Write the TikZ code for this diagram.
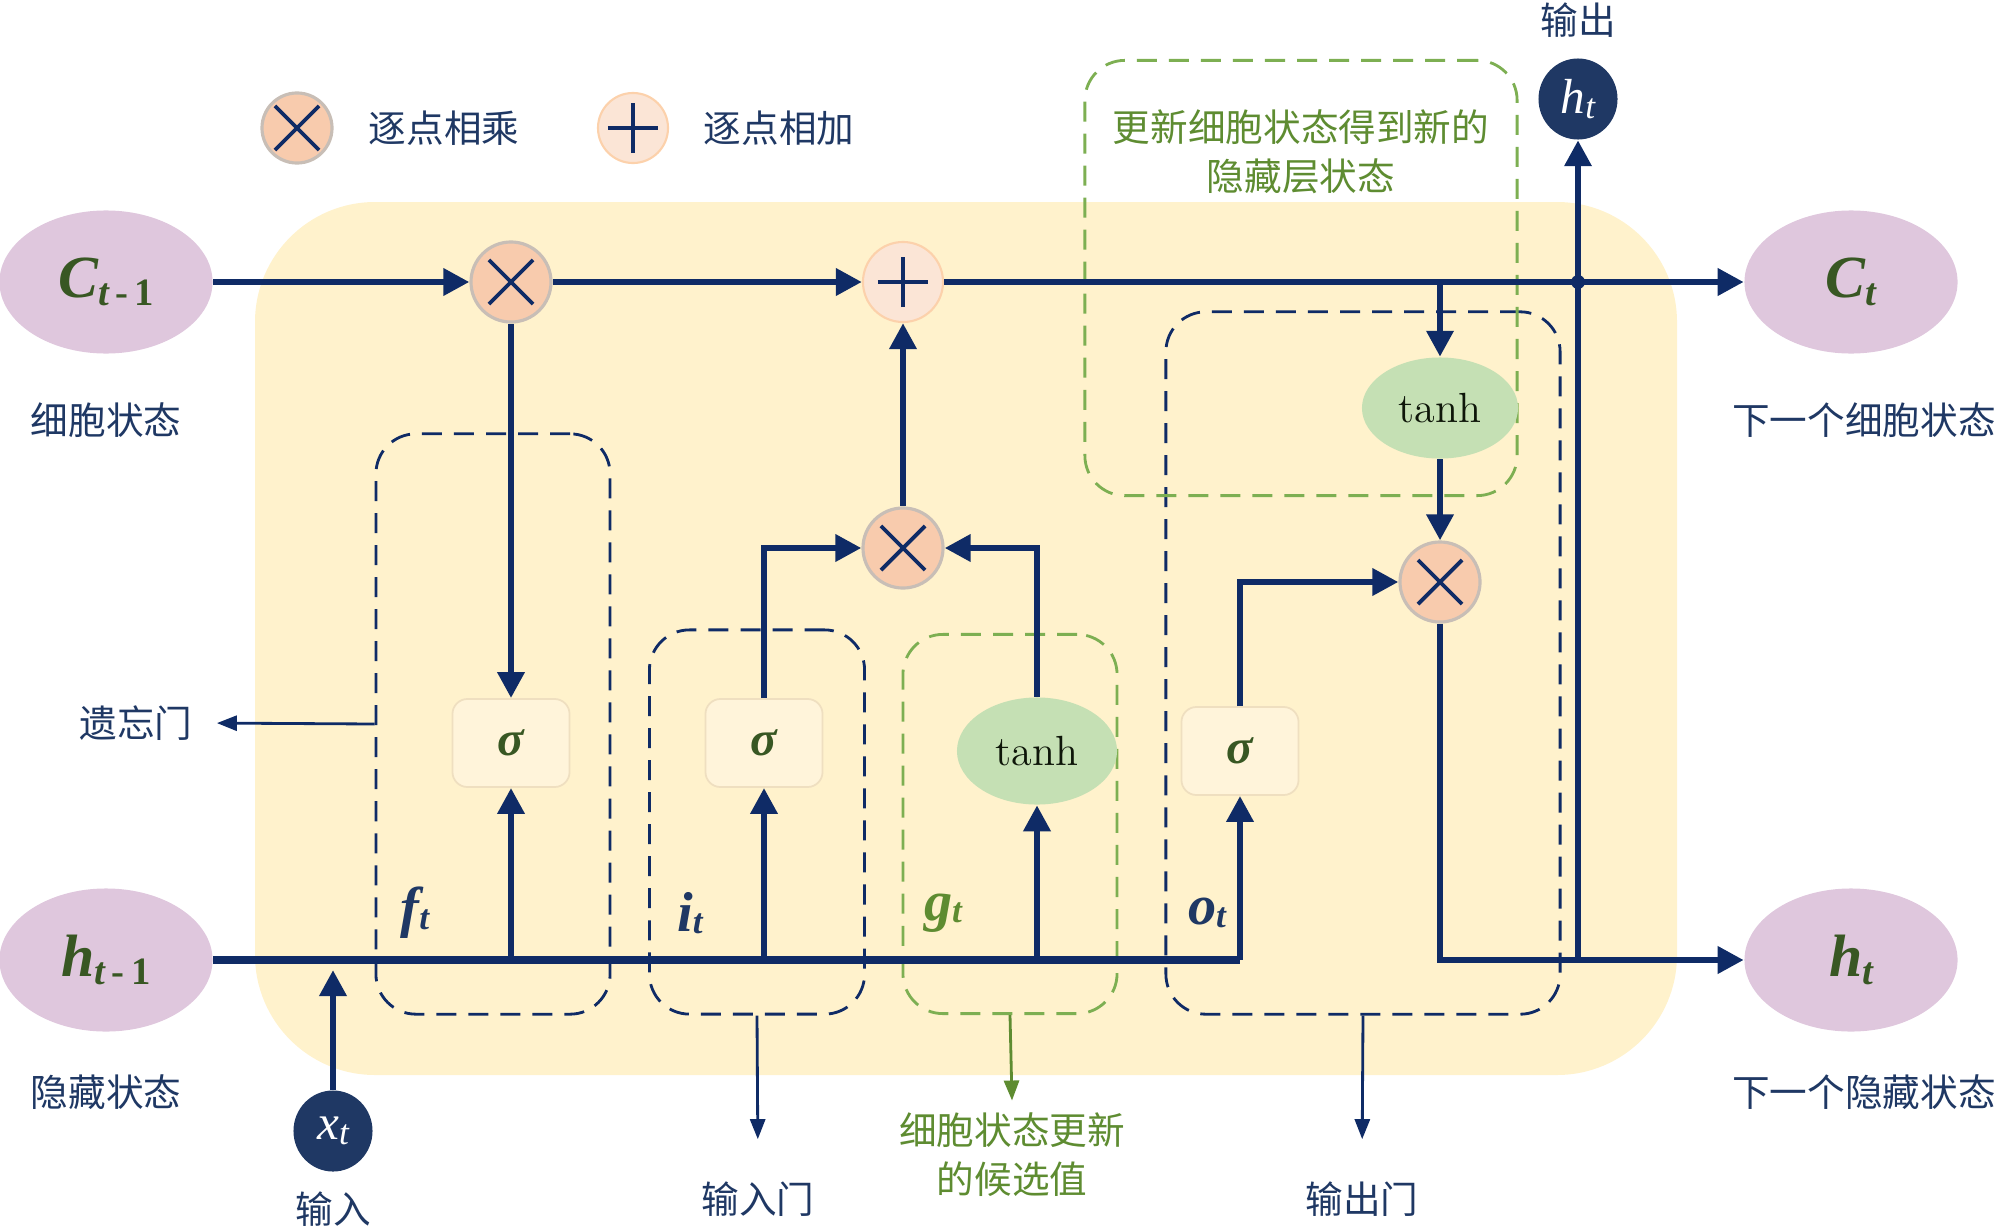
\documentclass[tikz,border=0pt]{standalone}
\usepackage{fontspec}
\usepackage{tikz}
\usetikzlibrary{arrows.meta,shapes.geometric}
\newfontfamily\cjk{Noto Sans CJK SC}
\newfontfamily\tnr{Liberation Serif}
\definecolor{linenavy}{HTML}{0F2B66}
\definecolor{textnavy}{HTML}{1F3864}
\definecolor{cellyellow}{HTML}{FFF2CC}
\definecolor{statepurple}{HTML}{DFC7DD}
\definecolor{multorange}{HTML}{F8CBAD}
\definecolor{plusorange}{HTML}{FBE5D6}
\definecolor{tanhgreen}{HTML}{C5E0B4}
\definecolor{darkgreen}{HTML}{385723}
\definecolor{gategreen}{HTML}{5E8C31}
\definecolor{dashgreen}{HTML}{7DAF52}
\definecolor{ringgray}{HTML}{C8BEB6}
\definecolor{sigfill}{HTML}{FFF4DA}
\definecolor{sigline}{HTML}{EFDFC0}
\newcommand{\statesym}[2]{{\tnr\bfseries\itshape\fontsize{17}{17}\selectfont #1\raisebox{-0.3ex}{\fontsize{11}{11}\selectfont #2}}}
\newcommand{\gatesym}[1]{{\tnr\bfseries\itshape\fontsize{16}{16}\selectfont #1\raisebox{-0.1ex}{\fontsize{10}{10}\selectfont t}}}

\begin{document}
\begin{tikzpicture}[x=0.01cm,y=-0.01cm,
  arr/.style={linenavy,line width=1.9pt,-{Triangle[length=2.6mm,width=2.6mm]}},
  thinarr/.style={linenavy,line width=0.8pt,-{Triangle[length=2mm,width=1.5mm]}},
  hline/.style={linenavy,line width=2.5pt},
  state/.style={ellipse,fill=statepurple,minimum width=21.3mm,minimum height=14.3mm,inner sep=0pt,text=darkgreen},
  opmult/.style={circle,fill=multorange,draw=ringgray,line width=0.9pt,minimum size=8mm,inner sep=0pt,
    path picture={\draw[linenavy,line width=1.1pt]
      ([shift={(-2.2mm,-2.2mm)}]path picture bounding box.center) -- ([shift={(2.2mm,2.2mm)}]path picture bounding box.center)
      ([shift={(-2.2mm,2.2mm)}]path picture bounding box.center) -- ([shift={(2.2mm,-2.2mm)}]path picture bounding box.center);}},
  opplus/.style={circle,fill=plusorange,draw=plusorange!80!orange,line width=0.6pt,minimum size=8mm,inner sep=0pt,
    path picture={\draw[linenavy,line width=1.2pt]
      ([shift={(-2.5mm,0mm)}]path picture bounding box.center) -- ([shift={(2.5mm,0mm)}]path picture bounding box.center)
      ([shift={(0mm,-2.5mm)}]path picture bounding box.center) -- ([shift={(0mm,2.5mm)}]path picture bounding box.center);}},
  sigmabox/.style={rectangle,rounded corners=1.5mm,fill=sigfill,draw=sigline,line width=0.5pt,minimum width=11.7mm,minimum height=8.8mm,
    text=darkgreen,font=\tnr\bfseries\itshape\fontsize{14}{14}\selectfont},
  tanhnode/.style={ellipse,fill=tanhgreen,inner sep=0pt,text=black!75!darkgreen,font=\fontsize{12}{12}\selectfont},
  darkdot/.style={ellipse,fill=textnavy,inner sep=0pt,minimum width=7.9mm,minimum height=8.1mm,text=white,
    font=\tnr\itshape\fontsize{14}{14}\selectfont},
  gatebox/.style={rectangle,draw=linenavy,line width=0.8pt,dash pattern=on 2mm off 1.2mm,rounded corners=4mm,inner sep=0pt},
  greenbox/.style={gatebox,draw=dashgreen},
  cntext/.style={text=textnavy,font=\cjk\fontsize{10.7}{14}\selectfont,align=center},
  greentext/.style={cntext,text=gategreen}]
  \useasboundingbox (0,0) rectangle (2000,1230);
  \fill[cellyellow,rounded corners=12mm] (255,202) rectangle (1677,1075);

  % legend
  \node[opmult,minimum size=7mm] (lgmult) at (297,128) {};
  \node[cntext] (lgmulttxt) at (444,128) {逐点相乘};
  \node[opplus,minimum size=7mm] (lgplus) at (633,128) {};
  \node[cntext] (lgplustxt) at (779,128) {逐点相加};

  % dashed gate regions
  \node[gatebox,minimum width=23.4mm,minimum height=58mm] (fbox) at (493,724) {};
  \node[gatebox,minimum width=21.5mm,minimum height=38.4mm] (ibox) at (757,822) {};
  \node[greenbox,minimum width=21.4mm,minimum height=37.9mm] (gbox) at (1010,824) {};
  \node[gatebox,minimum width=39.4mm,minimum height=70.2mm] (obox) at (1363,663) {};
  \node[greenbox,minimum width=43.2mm,minimum height=43.5mm] (hbox) at (1301,278) {};

  % states
  \node[state] (cprev) at (106,282) {\statesym{C}{t\upshape\,-\,1}};
  \node[state] (hprev) at (106,960) {\statesym{h}{t\upshape\,-\,1}};
  \node[state] (cnext) at (1851,282) {\statesym{C}{t}};
  \node[state] (hnext) at (1851,960) {\statesym{h}{t}};
  \node[cntext] (cprevtxt) at (106,420) {细胞状态};
  \node[cntext] (hprevtxt) at (106,1092) {隐藏状态};
  \node[cntext] (cnexttxt) at (1864,420) {下一个细胞状态};
  \node[cntext] (hnexttxt) at (1864,1092) {下一个隐藏状态};

  % operations
  \node[opmult] (fmul) at (511,282) {};
  \node[opplus] (cadd) at (903,282) {};
  \node[opmult] (imul) at (903,548) {};
  \node[opmult] (omul) at (1440,582) {};
  \node[sigmabox] (fsig) at (511,743) {σ};
  \node[sigmabox] (isig) at (764,743) {σ};
  \node[tanhnode,minimum width=16mm,minimum height=10.7mm] (gtanh) at (1037,751) {tanh};
  \node[sigmabox] (osig) at (1240,751) {σ};
  \node[tanhnode,minimum width=15.6mm,minimum height=10.1mm] (ctanh) at (1440,408) {tanh};

  \node[darkdot] (hout) at (1578,99) {h\raisebox{-0.2ex}{\fontsize{10}{10}\selectfont t}};
  \node[darkdot] (xin) at (333,1131) {x\raisebox{-0.2ex}{\fontsize{10}{10}\selectfont t}};
  \node[cntext] (houttxt) at (1578,20) {输出};
  \node[cntext] (xintxt) at (333,1209) {输入};

  % gate symbols
  \node[text=textnavy] (ft) at (415,913) {\gatesym{f}};
  \node[text=textnavy] (it) at (690,913) {\gatesym{i}};
  \node[text=gategreen] (gt) at (943,913) {\gatesym{g}};
  \node[text=textnavy] (ot) at (1207,913) {\gatesym{o}};

  % gate names
  \node[cntext] (ftxt) at (136,723) {遗忘门};
  \node[cntext] (itxt) at (758,1199) {输入门};
  \node[greentext] (gtxt) at (1012,1155) {细胞状态更新\\的候选值};
  \node[cntext] (otxt) at (1362,1199) {输出门};
  \node[greentext] (htxt) at (1301,152) {更新细胞状态得到新的\\隐藏层状态};

  % cell state line
  \draw[arr] (cprev) -- (fmul);
  \draw[arr] (fmul) -- (cadd);
  \draw[arr] (cadd) -- (cnext);
  \coordinate (cjoin) at (1578,282);
  \fill[linenavy] (cjoin) circle (0.7mm);

  % hidden state line
  \coordinate (hend) at (1240,960);
  \draw[hline] (hprev.east) -- (hend);
  \draw[arr] (hend) -- (osig.south);
  \draw[arr,shorten >=1mm] (xin) -- (xin |- hprev);
  \draw[arr] (fsig.south |- hprev) -- (fsig.south);
  \draw[arr] (isig.south |- hprev) -- (isig.south);
  \draw[arr] (gtanh.south |- hprev) -- (gtanh.south);

  % gates
  \draw[arr] (fmul) -- (fsig.north);
  \draw[arr] (isig.north) |- (imul.west);
  \draw[arr] (gtanh.north) |- (imul.east);
  \draw[arr] (imul) -- (cadd);
  \draw[arr] (osig.north) |- (omul.west);
  \draw[arr] (ctanh.north |- cadd) -- (ctanh.north);
  \draw[arr] (ctanh) -- (omul);
  \draw[arr] (omul.south) |- (hnext.west);
  \coordinate (hjoin) at (1578,960);
  \draw[arr] (hjoin) -- (hout.south);

  % gate name arrows
  \draw[thinarr,shorten >=1.2mm] (fbox.west) -- (ftxt.east);
  \draw[thinarr,shorten >=3mm] (ibox.south) -- (itxt.north);
  \draw[thinarr,draw=gategreen,fill=gategreen] (gbox.south) -- (gtxt.north);
  \draw[thinarr,shorten >=3mm] (obox.south) -- (otxt.north);
\end{tikzpicture}
\end{document}
